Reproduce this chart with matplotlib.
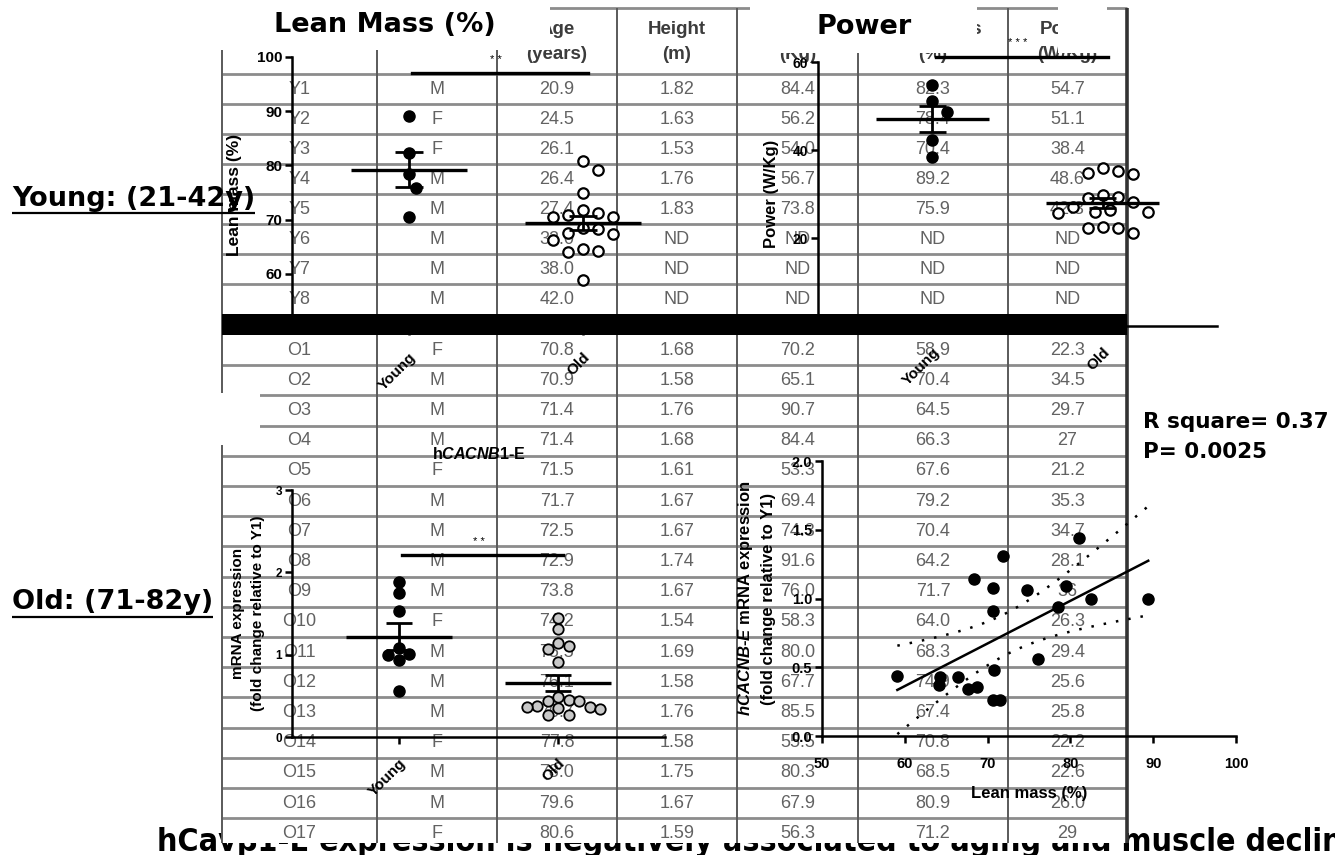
import numpy as np
import matplotlib
matplotlib.use("Agg")
import matplotlib.pyplot as plt
from matplotlib.patches import Rectangle

plt.rcParams["font.family"] = ["Liberation Sans", "DejaVu Sans"]
plt.rcParams["mathtext.fontset"] = "custom"
plt.rcParams["mathtext.rm"] = "Liberation Sans:bold"
plt.rcParams["mathtext.it"] = "Liberation Sans:italic:bold"

W, H = 1335, 855

# ---------------- subject table (as printed) ----------------
young_id = ["Y1", "Y2", "Y3", "Y4", "Y5", "Y6", "Y7", "Y8"]
young_sex = ["M", "F", "F", "M", "M", "M", "M", "M"]
young_age = ["20.9", "24.5", "26.1", "26.4", "27.4", "32.0", "38.0", "42.0"]
young_height = ["1.82", "1.63", "1.53", "1.76", "1.83", "ND", "ND", "ND"]
young_weight = ["84.4", "56.2", "54.0", "56.7", "73.8", "ND", "ND", "ND"]
young_lean = ["82.3", "78.4", "70.4", "89.2", "75.9", "ND", "ND", "ND"]
young_power = ["54.7", "51.1", "38.4", "48.6", "42.3", "ND", "ND", "ND"]

old_id = ["O%d" % i for i in range(1, 18)]
old_sex = ["F", "M", "M", "M", "F", "M", "M", "M", "M", "F", "M", "M", "M", "F", "M", "M", "F"]
old_age = ["70.8", "70.9", "71.4", "71.4", "71.5", "71.7", "72.5", "72.9", "73.8", "74.2",
           "75.5", "76.1", "76.7", "77.8", "78.0", "79.6", "80.6"]
old_height = ["1.68", "1.58", "1.76", "1.68", "1.61", "1.67", "1.67", "1.74", "1.67", "1.54",
              "1.69", "1.58", "1.76", "1.58", "1.75", "1.67", "1.59"]
old_weight = ["70.2", "65.1", "90.7", "84.4", "53.3", "69.4", "74.3", "91.6", "76.0", "58.3",
              "80.0", "67.7", "85.5", "55.5", "80.3", "67.9", "56.3"]
old_lean = ["58.9", "70.4", "64.5", "66.3", "67.6", "79.2", "70.4", "64.2", "71.7", "64.0",
            "68.3", "74.9", "67.4", "70.8", "68.5", "80.9", "71.2"]
old_power = ["22.3", "34.5", "29.7", "27", "21.2", "35.3", "34.7", "28.1", "36", "26.3",
             "29.4", "25.6", "25.8", "22.2", "22.6", "26.0", "29"]

header = ["", "", "Age\n(years)", "Height\n(m)", "Weight\n(Kg)", "Lean mass\n(%)", "Power\n(W/Kg)"]

# hCACNB1-E mRNA (fold change relative to Y1)
mrna_young = [1.88, 1.75, 1.53, 1.08, 1.00, 0.94, 1.01, 0.56]
mrna_old = [1.45, 1.31, 1.14, 1.10, 1.07, 0.91, 0.49, 0.45, 0.44, 0.44, 0.38,
            0.37, 0.37, 0.35, 0.34, 0.27, 0.27]

# correlation lean mass vs expression
corr_lean = [59.1, 64.3, 64.1, 66.4, 67.6, 68.7, 70.6, 71.5, 70.8, 76.1,
             68.4, 70.6, 70.6, 71.9, 74.8, 78.5, 79.5, 81.0, 82.5, 89.4]
corr_expr = [0.44, 0.43, 0.37, 0.43, 0.34, 0.36, 0.26, 0.26, 0.48, 0.56,
             1.14, 1.08, 0.91, 1.31, 1.06, 0.94, 1.09, 1.44, 1.00, 1.00]

groups = ["Young", "Old"]


def nums(col):
    return np.array([float(v) for v in col if v != "ND"])


def px_box(left, top, right, bottom):
    return [left / W, 1 - bottom / H, (right - left) / W, (bottom - top) / H]


fig = plt.figure(figsize=(W / 100, H / 100), dpi=100)
bg = fig.add_axes([0, 0, 1, 1])
bg.set_xlim(0, W)
bg.set_ylim(H, 0)
bg.axis("off")

# bottom title sits behind the table
bg.text(157, 851, "hCav\u03b21-E expression is negatively associated to aging and muscle decline",
        fontsize=23, fontweight="bold", family="DejaVu Sans", fontstretch="condensed",
        va="baseline", zorder=1)

# ---------------- table ----------------
col_x = [222, 377, 497, 617, 737, 858, 1008, 1127]
centers = [(a + b) / 2 for a, b in zip(col_x[:-1], col_x[1:])]
t_top, t_bot = 8, 843
young_lines = 74 + 30 * np.arange(8)
old_lines = 335 + 30.2 * np.arange(1, 17)

bg.add_patch(Rectangle((col_x[0], t_top), col_x[-1] - col_x[0], t_bot - t_top,
                       facecolor="white", edgecolor="none", zorder=2))
bg.hlines(np.r_[t_top, young_lines, old_lines], col_x[0], col_x[-1], color="#8c8c8c", lw=2.0, zorder=3)
bg.vlines(col_x[:-1], t_top, t_bot, color="#5a5a5a", lw=1.4, zorder=3)
bg.vlines(col_x[-1], t_top, t_bot, color="#333333", lw=2.6, zorder=3)
bg.add_patch(Rectangle((col_x[0], 314), col_x[-1] - col_x[0], 21, facecolor="black", zorder=4))

for c in range(2, 7):
    bg.text(centers[c], 42, header[c], ha="center", va="center", fontsize=13.5,
            fontweight="bold", color="#3c3c3c", linespacing=1.55, zorder=3)

young_rows = list(zip(young_id, young_sex, young_age, young_height, young_weight, young_lean, young_power))
old_rows = list(zip(old_id, old_sex, old_age, old_height, old_weight, old_lean, old_power))
for r, row in enumerate(young_rows):
    for c, val in enumerate(row):
        bg.text(centers[c], 89 + 30 * r, val, ha="center", va="center", fontsize=13,
                color="#626262", zorder=3)
for r, row in enumerate(old_rows):
    for c, val in enumerate(row):
        bg.text(centers[c], 350 + 30.2 * r, val, ha="center", va="center", fontsize=13,
                color="#626262", zorder=3)

# white patches pasted over the table
for (x0, y0, x1, y1) in [(0, 0, 550, 50), (750, 0, 977, 53), (1058, 0, 1107, 53), (220, 393, 260, 445)]:
    bg.add_patch(Rectangle((x0, y0), x1 - x0, y1 - y0, facecolor="white", edgecolor="none", zorder=5))

big = dict(family="DejaVu Sans", fontweight="bold", zorder=6)
bg.text(385, 25, "Lean Mass (%)", ha="center", va="center", fontsize=19.5, **big)
bg.text(864, 27, "Power", ha="center", va="center", fontsize=19.5, **big)
lab_young = bg.text(12, 206, "Young: (21-42y)", va="baseline", fontsize=19.5, **big)
lab_old = bg.text(12, 609, "Old: (71-82y)", va="baseline", fontsize=19.5, **big)
bg.text(1143, 422, "R square= 0.37", va="center", fontsize=15.5, **big)
bg.text(1143, 452, "P= 0.0025", va="center", fontsize=15.5, **big)


# ---------------- charts ----------------
def gp_axes(box, xlim, ylim, yticks, labelsize):
    ax = fig.add_axes(px_box(*box))
    ax.set_facecolor("none")
    ax.set_xlim(xlim)
    ax.set_ylim(ylim)
    ax.set_yticks(yticks)
    for s in ("top", "right"):
        ax.spines[s].set_visible(False)
    for s in ("left", "bottom"):
        ax.spines[s].set_linewidth(1.8)
    ax.tick_params(width=1.8, length=5, labelsize=labelsize, pad=2)
    return ax


def bold_ticks(ax):
    for lab in ax.get_xticklabels() + ax.get_yticklabels():
        lab.set_fontweight("bold")


def swarm(ax, vals, diam):
    x0, x1 = ax.get_xlim()
    y0, y1 = ax.get_ylim()
    pos = ax.get_position()
    wpx, hpx = pos.width * W, pos.height * H
    ypx = (vals - y0) / (y1 - y0) * hpx
    step = diam / 2
    placed = []
    offs = np.zeros(len(vals))
    for i in np.argsort(-vals, kind="stable"):
        k = 0
        while True:
            dx = ((k + 1) // 2) * step * (1 if k % 2 else -1)
            if all(np.hypot(dx - px, ypx[i] - py) >= diam for px, py in placed):
                break
            k += 1
        placed.append((dx, ypx[i]))
        offs[i] = dx * (x1 - x0) / wpx
    return offs


def dot_column(ax, pos, vals, diam, **style):
    vals = np.asarray(vals, dtype=float)
    ax.plot(pos + swarm(ax, vals, diam), vals, linestyle="none", marker="o", zorder=3, **style)
    m = vals.mean()
    sem = vals.std(ddof=1) / np.sqrt(len(vals))
    ax.hlines(m, pos - 0.333, pos + 0.333, color="black", lw=2.4, zorder=4)
    ax.vlines(pos, m - sem, m + sem, color="black", lw=2, zorder=4)
    ax.hlines([m - sem, m + sem], pos - 0.08, pos + 0.08, color="black", lw=2, zorder=4)


def categories(ax, pad):
    ax.set_xticks([1, 2])
    ax.set_xticklabels(groups, rotation=45, ha="right", va="top", rotation_mode="anchor",
                       fontsize=11)
    ax.tick_params(axis="x", pad=pad)


def sig_bar(ax, y, text, ty):
    ax.plot([1.02, 2.03], [y, y], color="black", lw=2.4, clip_on=False, zorder=4)
    ax.text(1.5, ty, text, ha="center", va="center", fontsize=8, clip_on=False)


filled = dict(color="black", markersize=8)
hollow = dict(markerfacecolor="white", markeredgecolor="black", markeredgewidth=1.6, markersize=7.5)
gray = dict(markerfacecolor="#c8c8c8", markeredgecolor="black", markeredgewidth=1.3, markersize=7.5)
xcat = (0.328, 2.672)

# Lean mass
ax1 = gp_axes((292, 57, 700, 328), xcat, (50, 100), np.arange(50, 101, 10), 11)
dot_column(ax1, 1, nums(young_lean), 15, **filled)
dot_column(ax1, 2, nums(old_lean), 15, **hollow)
categories(ax1, 11)
sig_bar(ax1, 97.0, "* *", 99.4)
ax1.set_ylabel("Lean mass (%)", fontsize=12.5, fontweight="bold")
ax1.yaxis.set_label_coords(-0.122, 0.49)
bold_ticks(ax1)

# Power
ax2 = gp_axes((818, 62, 1217, 326), xcat, (0, 60), [0, 20, 40, 60], 10)
dot_column(ax2, 1, nums(young_power), 15, **filled)
dot_column(ax2, 2, nums(old_power), 15, **hollow)
categories(ax2, 9)
sig_bar(ax2, 61.1, "* * *", 64.3)
ax2.set_ylabel("Power (W/Kg)", fontsize=12, fontweight="bold")
ax2.yaxis.set_label_coords(-0.098, 0.5)
bold_ticks(ax2)

# hCACNB1-E mRNA
ax3 = gp_axes((292, 490, 665, 737), xcat, (0, 3), [0, 1, 2, 3], 8.5)
dot_column(ax3, 1, mrna_young, 10.5, **filled)
dot_column(ax3, 2, mrna_old, 10.5, **gray)
categories(ax3, 9)
sig_bar(ax3, 2.21, "* *", 2.37)
ax3.set_title(r"h$\mathit{CACNB1}$-E", fontsize=11.5, fontweight="bold", pad=22)
ax3.set_ylabel("mRNA expression\n(fold change relative to Y1)", fontsize=11, fontweight="bold",
               linespacing=1.55)
ax3.yaxis.set_label_coords(-0.072, 0.5)
bold_ticks(ax3)

# correlation
ax4 = gp_axes((822, 461, 1236, 736), (50, 100), (0, 2), np.arange(0, 2.01, 0.5), 10.5)
ax4.set_xticks(np.arange(50, 101, 10))
ax4.set_yticklabels(["%.1f" % v for v in np.arange(0, 2.01, 0.5)])
ax4.tick_params(axis="x", pad=10)
xs = np.array(corr_lean)
ys = np.array(corr_expr)
ax4.plot(xs, ys, linestyle="none", marker="o", color="black", markersize=8, zorder=3)
slope, icpt = np.polyfit(xs, ys, 1)
n = len(xs)
resid = ys - (slope * xs + icpt)
s_err = np.sqrt((resid ** 2).sum() / (n - 2))
T95 = 2.101  # t(0.975, n-2) with n = 20
gx = np.linspace(xs.min(), xs.max(), 100)
fit = slope * gx + icpt
half = T95 * s_err * np.sqrt(1 / n + (gx - xs.mean()) ** 2 / ((xs - xs.mean()) ** 2).sum())
ax4.plot(gx, fit, color="black", lw=1.8, zorder=4)
ax4.plot(gx, fit + half, color="black", lw=1.8, linestyle=(0, (1, 4)), zorder=4)
ax4.plot(gx, fit - half, color="black", lw=1.8, linestyle=(0, (1, 4)), zorder=4)
ax4.set_xlabel("Lean mass (%)", fontsize=12, fontweight="bold")
ax4.xaxis.set_label_coords(0.5, -0.18)
ax4.set_ylabel(r"$\mathit{hCACNB}$-$\mathit{E}$ mRNA expression" + "\n(fold change relative to Y1)",
               fontsize=12, fontweight="bold", linespacing=1.5)
ax4.yaxis.set_label_coords(-0.11, 0.5)
bold_ticks(ax4)

# underline the group labels
fig.canvas.draw()
inv = bg.transData.inverted()
for t, y in [(lab_young, 213), (lab_old, 617)]:
    bb = t.get_window_extent()
    (x0, _), (x1, _) = inv.transform([[bb.x0, bb.y0], [bb.x1, bb.y1]])
    bg.hlines(y, x0, x1, color="black", lw=1.6, zorder=6)

fig.savefig("out.png", dpi=100)
plt.close(fig)
